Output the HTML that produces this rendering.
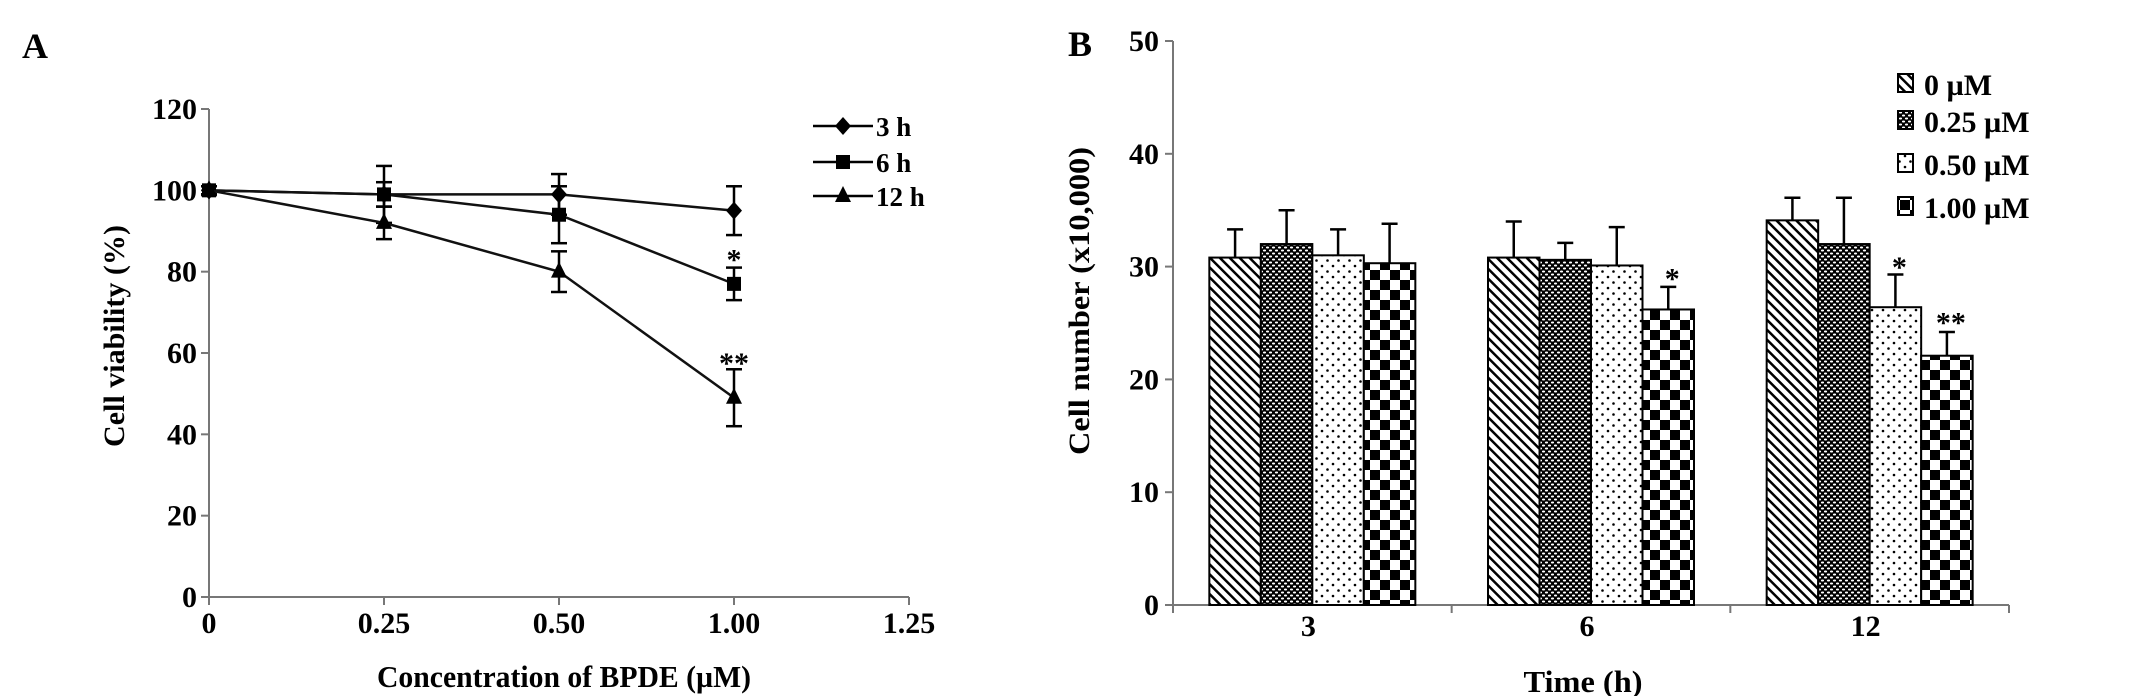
<!DOCTYPE html>
<html><head><meta charset="utf-8"><style>
html,body{margin:0;padding:0;background:#fff}
svg{display:block}
text{font-family:"Liberation Serif",serif;font-weight:bold;fill:#000}
</style></head><body>
<svg id="fig" width="2130" height="696" viewBox="0 0 2130 696" xmlns="http://www.w3.org/2000/svg">
<defs>
<pattern id="pHatch" width="7" height="7" patternUnits="userSpaceOnUse" patternTransform="rotate(-45)">
<rect width="7" height="7" fill="#fff"/><rect x="0" y="0" width="2.5" height="7" fill="#000"/></pattern>
<pattern id="pDark" width="6" height="6" patternUnits="userSpaceOnUse">
<rect width="6" height="6" fill="#000"/><ellipse cx="1.5" cy="1.5" rx="1.6" ry="1" fill="#fff"/><ellipse cx="4.5" cy="4.5" rx="1.6" ry="1" fill="#fff"/></pattern>
<pattern id="pDots" width="11" height="11" patternUnits="userSpaceOnUse">
<rect width="11" height="11" fill="#fff"/><circle cx="2" cy="2" r="1.3" fill="#000"/><circle cx="7.5" cy="7.5" r="1.3" fill="#000"/></pattern>
<pattern id="pCheck" width="20" height="20" patternUnits="userSpaceOnUse">
<rect width="20" height="20" fill="#fff"/><rect width="10" height="10" fill="#000"/><rect x="10" y="10" width="10" height="10" fill="#000"/></pattern>
</defs>
<text x="22" y="58" font-size="36">A</text>
<text x="1068" y="56" font-size="36">B</text>
<g id="chartA"></g>
<g id="chartB"></g>
</svg>
<script>
const NS="http://www.w3.org/2000/svg";
// ---- Chart A data ----
const concX=[0,0.25,0.5,1.0];
const xTicksA=[0,0.25,0.5,1.0,1.25];
const xTickLabelsA=["0","0.25","0.50","1.00","1.25"];
const yTicksA=[0,20,40,60,80,100,120];
const series3h=[100,99,99,95];
const err3h=[1,3,5,6];
const series6h=[100,99,94,77];
const err6h=[1,7,7,4];
const series12h=[100,92,80,49];
const err12h=[1,4,5,7];
const seriesNamesA=["3 h","6 h","12 h"];
const starsA=[{x:1.0,y:84,t:"*"},{x:1.0,y:58.5,t:"**"}];
// ---- Chart B data ----
const timeCats=["3","6","12"];
const concNames=["0 µM","0.25 µM","0.50 µM","1.00 µM"];
const bars0=[30.8,30.8,34.1];
const bars025=[32,30.6,32];
const bars050=[31,30.1,26.4];
const bars100=[30.3,26.2,22.1];
const errB0=[2.5,3.2,2.0];
const errB025=[3.0,1.5,4.1];
const errB050=[2.3,3.4,2.9];
const errB100=[3.5,2.0,2.1];
const yTicksB=[0,10,20,30,40,50];
const starsB=[{c:1,s:3,t:"*",y:29.3},{c:2,s:2,t:"*",y:30.3},{c:2,s:3,t:"**",y:25.4}];

function mk(tag,attrs,parent,txt){const e=document.createElementNS(NS,tag);for(const k in attrs)e.setAttribute(k,attrs[k]);if(txt!==undefined)e.textContent=txt;parent.appendChild(e);return e;}

// Chart A
(function(){
const g=document.getElementById('chartA');
// axis ticks are equally spaced (segmented axis); interpolate between ticks
const xA=v=>{
 const step=175;
 for(let i=0;i<xTicksA.length-1;i++){
  const a=xTicksA[i],b=xTicksA[i+1];
  if(v<=b||i===xTicksA.length-2) return 209+step*(i+(v-a)/(b-a));
 }
};
const yA=v=>597-v*(597-109)/120;
const ax='#777';
let e;
e=mk('line',{x1:209,y1:109,x2:209,y2:597,stroke:ax,'stroke-width':2},g);

e=mk('line',{x1:209,y1:597,x2:xA(1.25),y2:597,stroke:ax,'stroke-width':2},g);

yTicksA.forEach(v=>{
 mk('line',{x1:201,y1:yA(v),x2:209,y2:yA(v),stroke:ax,'stroke-width':2},g);
 e=mk('text',{x:197,y:yA(v)+10,'font-size':30,'text-anchor':'end'},g,String(v));
 
});
xTicksA.forEach((v,i)=>{
 mk('line',{x1:xA(v),y1:597,x2:xA(v),y2:605,stroke:ax,'stroke-width':2},g);
 e=mk('text',{x:xA(v),y:633,'font-size':30,'text-anchor':'middle'},g,xTickLabelsA[i]);
 
});
e=mk('text',{x:564,y:687,'font-size':31,'text-anchor':'middle',textLength:374,lengthAdjust:'spacingAndGlyphs'},g,'Concentration of BPDE (µM)');

e=mk('text',{x:0,y:0,'font-size':30,'text-anchor':'middle',transform:'translate(124,336) rotate(-90)',textLength:222,lengthAdjust:'spacingAndGlyphs'},g,'Cell viability (%)');

const all=[[series3h,err3h,'diamond'],[series6h,err6h,'square'],[series12h,err12h,'triangle']];
function marker(shape,cx,cy,par){
 if(shape==='diamond')return mk('polygon',{points:`${cx},${cy-9} ${cx+8},${cy} ${cx},${cy+9} ${cx-8},${cy}`,fill:'#000'},par);
 if(shape==='square')return mk('rect',{x:cx-7,y:cy-7,width:14,height:14,fill:'#000'},par);
 return mk('polygon',{points:`${cx},${cy-10} ${cx+8},${cy+6} ${cx-8},${cy+6}`,fill:'#000'},par);
}
all.forEach(([vals,errs,shape],si)=>{
 const sg=mk('g',{},g);
 
 
 const pts=vals.map((v,i)=>xA(concX[i])+','+yA(v)).join(' ');
 mk('polyline',{points:pts,fill:'none',stroke:'#111','stroke-width':2.5},sg);
 vals.forEach((v,i)=>{
  const cx=xA(concX[i]);
  mk('line',{x1:cx,y1:yA(v+errs[i]),x2:cx,y2:yA(v-errs[i]),stroke:'#000','stroke-width':2.5},sg);
  mk('line',{x1:cx-8,y1:yA(v+errs[i]),x2:cx+8,y2:yA(v+errs[i]),stroke:'#000','stroke-width':2.5},sg);
  mk('line',{x1:cx-8,y1:yA(v-errs[i]),x2:cx+8,y2:yA(v-errs[i]),stroke:'#000','stroke-width':2.5},sg);
  const m=marker(shape,cx,yA(v),sg);
  
  
 });
});
starsA.forEach(s=>{
 e=mk('text',{x:xA(s.x),y:yA(s.y)+14,'font-size':30,'text-anchor':'middle',fill:'#333'},g,s.t);
 
});
const legY=[126,162,196];
const shapes=['diamond','square','triangle'];
seriesNamesA.forEach((n,i)=>{
 const lg=mk('g',{},g);
 
 
 mk('line',{x1:813,y1:legY[i],x2:873,y2:legY[i],stroke:'#000','stroke-width':2.5},lg);
 marker(shapes[i],843,legY[i],lg);
 mk('text',{x:876,y:legY[i]+10,'font-size':27},lg,n);
});
})();

// Chart B
(function(){
const g=document.getElementById('chartB');
const x0=1173,x1=2009,yB=v=>605-v*11.28;
const band=(x1-x0)/3, bw=51.5;
const ax='#777';
let e;
e=mk('line',{x1:x0,y1:yB(50),x2:x0,y2:605,stroke:ax,'stroke-width':2},g);

e=mk('line',{x1:x0,y1:605,x2:x1,y2:605,stroke:ax,'stroke-width':2},g);

yTicksB.forEach(v=>{
 mk('line',{x1:x0-8,y1:yB(v),x2:x0,y2:yB(v),stroke:ax,'stroke-width':2},g);
 e=mk('text',{x:x0-14,y:yB(v)+10,'font-size':30,'text-anchor':'end'},g,String(v));
 
});
for(let i=0;i<=3;i++)mk('line',{x1:x0+band*i,y1:605,x2:x0+band*i,y2:613,stroke:ax,'stroke-width':2},g);
const fills=['url(#pHatch)','url(#pDark)','url(#pDots)','url(#pCheck)'];
const vals=[bars0,bars025,bars050,bars100];
const errs=[errB0,errB025,errB050,errB100];
const bx=(c,s)=>x0+band*c+band/2-2*bw+s*bw;
timeCats.forEach((cat,c)=>{
 e=mk('text',{x:x0+band*c+band/2-4,y:636,'font-size':30,'text-anchor':'middle'},g,cat);
 
 for(let s=0;s<4;s++){
  const v=vals[s][c],x=bx(c,s);
  const r=mk('rect',{x:x,y:yB(v),width:bw,height:605-yB(v),fill:fills[s],stroke:'#000','stroke-width':2},g);
  
  
  const cx=x+bw/2, top=yB(v+errs[s][c]);
  mk('line',{x1:cx,y1:yB(v),x2:cx,y2:top,stroke:'#000','stroke-width':2.5},g);
  mk('line',{x1:cx-8,y1:top,x2:cx+8,y2:top,stroke:'#000','stroke-width':2.5},g);
 }
});
starsB.forEach(s=>{
 e=mk('text',{x:bx(s.c,s.s)+bw/2+4,y:yB(s.y)+14,'font-size':30,'text-anchor':'middle',fill:'#333'},g,s.t);
 
});
e=mk('text',{x:1583,y:692,'font-size':31,'text-anchor':'middle',textLength:119,lengthAdjust:'spacingAndGlyphs'},g,'Time (h)');

e=mk('text',{x:0,y:0,'font-size':30,'text-anchor':'middle',transform:'translate(1089,301) rotate(-90)',textLength:308,lengthAdjust:'spacingAndGlyphs'},g,'Cell number (x10,000)');

const legY=[95,132,175,218];
concNames.forEach((n,i)=>{
 const lg=mk('g',{},g);
 
 
 mk('rect',{x:1898,y:legY[i]-21,width:15,height:18,fill:fills[i],stroke:'#000','stroke-width':2},lg);
 mk('text',{x:1924,y:legY[i],'font-size':30},lg,n);
});
})();
</script>
</body></html>
